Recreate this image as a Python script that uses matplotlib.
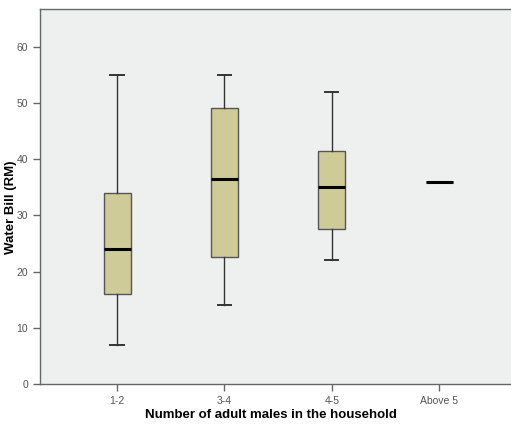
import matplotlib.pyplot as plt

plt.rcParams['font.family'] = ['Liberation Sans', 'DejaVu Sans']

groups = ['1-2', '3-4', '4-5', 'Above 5']
whislo = [7, 14, 22, 36]
q1 = [16, 22.5, 27.5, 36]
med = [24, 36.5, 35, 36]
q3 = [34, 49, 41.5, 36]
whishi = [55, 55, 52, 36]

stats = []
for i, g in enumerate(groups):
    stats.append(dict(label=g, whislo=whislo[i], q1=q1[i], med=med[i],
                      q3=q3[i], whishi=whishi[i], fliers=[]))

fig = plt.figure(figsize=(5.11, 4.25), dpi=100)
ax = fig.add_axes([0.078, 0.0965, 0.922, 0.8825])
ax.set_facecolor('#eef0ef')

edge = '#555555'
ax.bxp(stats, positions=[1, 2, 3, 4], widths=0.25, patch_artist=True,
       showfliers=False,
       boxprops=dict(facecolor='#cfcb98', edgecolor=edge, linewidth=1.0),
       medianprops=dict(color='black', linewidth=2.2),
       whiskerprops=dict(color='#333333', linewidth=1.0),
       capprops=dict(color='#333333', linewidth=1.4),
       capwidths=0.125)

ax.set_xlim(0.28, 4.67)
ax.set_ylim(0, 66.7)
ax.set_yticks([0, 10, 20, 30, 40, 50, 60])

for s in ['left', 'bottom', 'top']:
    ax.spines[s].set_color('#666666')
    ax.spines[s].set_linewidth(1.0)
ax.spines['right'].set_visible(False)
ax.tick_params(colors='#666666', labelcolor='#555555', labelsize=7.5, length=5, width=1)

ax.set_xlabel('Number of adult males in the household', fontsize=9.5, fontweight='bold', va='center')
ax.set_ylabel('Water Bill (RM)', fontsize=9.5, fontweight='bold', va='center')
ax.xaxis.set_label_coords(0.49, -0.083)
ax.yaxis.set_label_coords(-0.062, 0.47)

fig.savefig('out.png', dpi=100)
